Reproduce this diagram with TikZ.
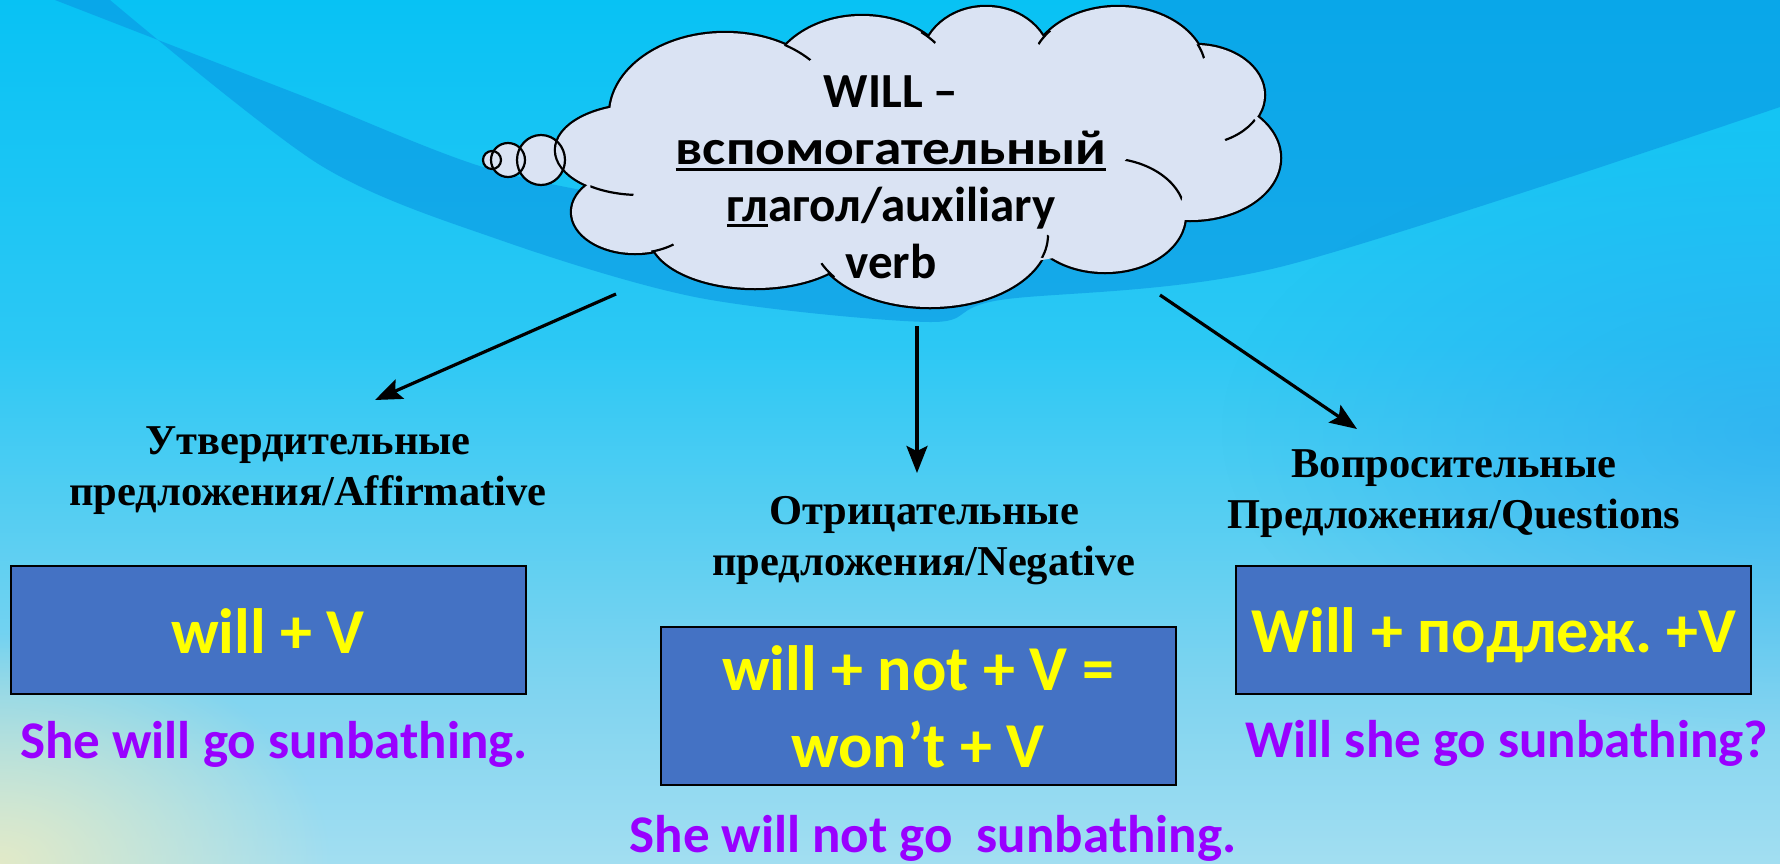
\documentclass[tikz,border=0pt]{standalone}
\usepackage{graphicx}
\usepackage{fontspec}
\setmainfont{Carlito}
\newfontfamily\serifb{Liberation Serif}
\usetikzlibrary{arrows.meta,fadings}
\definecolor{boxblue}{HTML}{4472C4}
\definecolor{txtyellow}{HTML}{FFFF00}
\definecolor{txtpurple}{HTML}{9900FF}
\definecolor{cloudfill}{HTML}{DAE3F3}
\definecolor{bandblue}{HTML}{0A96E2}
\definecolor{tintblue}{HTML}{1E9CF0}
\definecolor{cA}{HTML}{00B9EE}
\definecolor{cB}{HTML}{08C2F4}
\definecolor{cC}{HTML}{2CC8F4}
\definecolor{cD}{HTML}{80D4F0}
\definecolor{cE}{HTML}{C4E8F2}
\definecolor{cF}{HTML}{DEF1F6}
\definecolor{paleyel}{HTML}{E2EAC8}
\pgfdeclareverticalshading{bgshade}{100bp}{color(0bp)=(cF); color(15bp)=(cE); color(35bp)=(cD); color(55bp)=(cC); color(75bp)=(cB); color(100bp)=(cA)}
\tikzfading[name=softround, inner color=transparent!0, outer color=transparent!100]
\newcommand\myul[2]{\setbox0\hbox{#2}\rlap{\rule[-#1pt]{\wd0}{3.5pt}}\box0}
\frenchspacing
\begin{document}
\begin{tikzpicture}[x=1pt,y=-1pt,
  arr/.style={line width=3.2pt,-{Stealth[length=27pt,width=21pt,inset=5pt]}},
  bluebox/.style={draw=black,line width=2pt,fill=boxblue,minimum width=515pt,inner sep=0pt},
  cloudtxt/.style={font=\bfseries\fontsize{49}{57}\selectfont,align=center,anchor=base},
  heading/.style={font=\serifb\bfseries\fontsize{42.5}{51}\selectfont,align=center,anchor=base},
  formula/.style={font=\bfseries\fontsize{64}{77}\selectfont,text=txtyellow,align=center,anchor=base},
  example/.style={font=\bfseries\fontsize{53}{60}\selectfont,text=txtpurple,anchor=base},
  puffline/.style={draw=black,line width=4.5pt},
  bubble/.style={draw=black,line width=2.2pt}]
\useasboundingbox (0,0) rectangle (1780,863);
% background
\shade[shading=bgshade] (0,0) rectangle (1780,863);
\fill[tintblue,opacity=0.45,path fading=softround] (1780,430) ellipse [x radius=560, y radius=300];
\fill[bandblue,opacity=0.6] plot[smooth] coordinates {(110,0) (320,165) (500,240) (700,298) (930,322) (1000,300) (1280,267) (1780,107)} -- (1780,0) -- (1120,0) -- plot[smooth] coordinates {(1120,0) (1100,40) (950,150) (700,200) (500,172) (300,95) (55,0)} -- cycle;
\fill[paleyel,path fading=softround] (0,863) ellipse [x radius=330, y radius=230];
% bubbles fill (under cloud)
\fill[cloudfill] (541,160) ellipse [x radius=24, y radius=25];
\fill[cloudfill] (508,160) circle [radius=17];
\fill[cloudfill] (492,160) circle [radius=9];
% cloud made of overlapping puffs
\def\cloudlist{640/150/84/45, 725/115/115/82, 862/90/95/74, 986/62/64/55, 1118/72/88/65, 1195/95/69/50, 1190/158/90/62, 1105/215/80/57, 930/235/118/72, 755/235/105/53, 635/212/63/41}
\foreach \cx/\cy/\ra/\rb in \cloudlist {\draw[puffline] (\cx,\cy) ellipse [x radius=\ra, y radius=\rb];}
\foreach \cx/\cy/\ra/\rb in \cloudlist {\fill[cloudfill] (\cx,\cy) ellipse [x radius=\ra, y radius=\rb];}
\fill[cloudfill] (917,160) ellipse [x radius=300, y radius=110];
% inner puff arcs (short pieces of puff outlines)
\foreach \px/\py/\pa/\pb/\kx/\ky/\kr in {725/115/115/82/800/48/16, 862/90/95/74/928/38/9, 1118/72/88/65/1045/38/9, 1118/72/88/65/1199/52/8, 1195/95/69/50/1240/130/18, 1105/215/80/57/1150/185/35, 930/235/118/72/1043/246/12, 930/235/118/72/826/272/10, 635/212/63/41/663/250/12, 640/150/84/45/612/190/22}
{\begin{scope}\clip (\kx,\ky) circle [radius=\kr];
 \draw[bubble] (\px,\py) ellipse [x radius=\pa, y radius=\pb];\end{scope}}
% bubble outlines
\draw[bubble] (541,160) ellipse [x radius=24, y radius=25];
\draw[bubble] (508,160) circle [radius=17];
\draw[bubble] (492,160) circle [radius=9];
% cloud text
\node[cloudtxt] (cloudtext) at (891,278) {WILL –\\\myul{7}{\scalebox{1.13}[1]{вспомогательный}}\\\myul{6}{гл}агол/auxiliary\\verb};
% headings
\node[heading] (haff) at (308,505) {Утвердительные\\предложения/Affirmative};
\node[heading] (hneg) at (924,575) {Отрицательные\\предложения/Negative};
\node[heading] (hque) at (1454,528) {Вопросительные\\Предложения/Questions};
% arrows
\coordinate (s1) at (616,294); \coordinate (e1) at (375,400);
\coordinate (s2) at (917,326); \coordinate (e2) at (917,473);
\coordinate (s3) at (1160,295); \coordinate (e3) at (1357,429);
\draw[arr] (s1) -- (e1);
\draw[arr] (s2) -- (e2);
\draw[arr] (s3) -- (e3);
% boxes
\node[bluebox,minimum height=128pt] (baff) at (268.5,630) {};
\node[bluebox,minimum height=158pt] (bneg) at (918.5,706) {};
\node[bluebox,minimum height=128pt] (bque) at (1493.5,630) {};
\node[formula] (faff) at (268,653) {will + V};
\node[formula] (fneg) at (918,767) {will + not + V =\\won’t + V};
\node[formula] (fque) at (1494,652) {Will + подлеж. +V};
% examples
\node[example] (xaff) at (274,758) {She will go sunbathing.};
\node[example] (xneg) at (933,852) {She will not go \ sunbathing.};
\node[example] (xque) at (1507,757) {Will she go sunbathing?};
\end{tikzpicture}
\end{document}
